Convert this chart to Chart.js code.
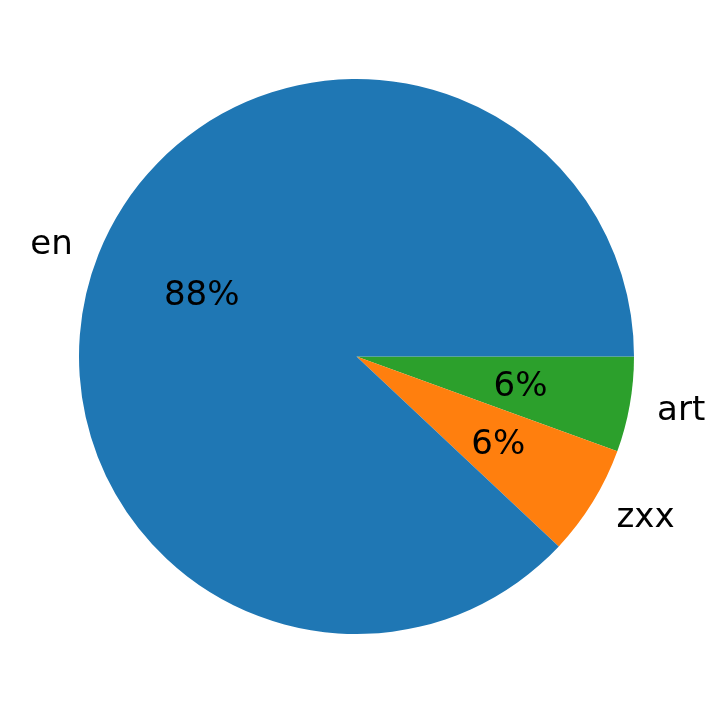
<!DOCTYPE html>
<html>
<head>
<meta charset="utf-8">
<script src="https://cdn.jsdelivr.net/npm/chart.js@4/dist/chart.umd.min.js"></script>
<style>
html,body{margin:0;padding:0;background:#fff;}
#wrap{width:716px;height:713px;}
</style>
</head>
<body>
<div id="wrap"><canvas id="c" width="716" height="713"></canvas></div>
<script>
const categories = ['en', 'zxx', 'art'];
const values = [88.0, 6.45, 5.55];
const colors = ['#1f77b4', '#ff7f0e', '#2ca02c'];

// matplotlib draws counter-clockwise from 3 o'clock; Chart.js goes clockwise,
// so feed the slices in reverse order starting at 3 o'clock.
const ordLabels = categories.slice().reverse();
const ordValues = values.slice().reverse();
const ordColors = colors.slice().reverse();

const FONT_SIZE = 34;
const FONT = FONT_SIZE + 'px "DejaVu Sans"';

const labelPlugin = {
  id: 'mplLabels',
  afterDatasetsDraw(chart) {
    const ctx = chart.ctx;
    const meta = chart.getDatasetMeta(0);
    const total = ordValues.reduce((a, b) => a + b, 0);
    ctx.save();
    ctx.font = FONT;
    ctx.fillStyle = '#000';
    ctx.textBaseline = 'alphabetic';
    meta.data.forEach((arc, i) => {
      const mid = (arc.startAngle + arc.endAngle) / 2;
      const r = arc.outerRadius;
      const cx = arc.x, cy = arc.y;
      const off = 0.3 * FONT_SIZE;
      // percentage label
      const pct = Math.round(ordValues[i] / total * 100) + '%';
      const px = cx + 0.6 * r * Math.cos(mid);
      const py = cy + 0.6 * r * Math.sin(mid);
      ctx.textAlign = 'center';
      ctx.fillText(pct, px, py + off);
      // category label
      const lx = cx + 1.1 * r * Math.cos(mid);
      const ly = cy + 1.1 * r * Math.sin(mid);
      ctx.textAlign = Math.cos(mid) < 0 ? 'right' : 'left';
      ctx.fillText(ordLabels[i], lx, ly + off);
    });
    ctx.restore();
  }
};

new Chart(document.getElementById('c'), {
  type: 'pie',
  data: {
    labels: ordLabels,
    datasets: [{
      data: ordValues,
      backgroundColor: ordColors,
      borderWidth: 0
    }]
  },
  options: {
    responsive: false,
    animation: false,
    rotation: 90,
    layout: { padding: { left: 79, right: 82, top: 79, bottom: 79 } },
    plugins: {
      legend: { display: false },
      tooltip: { enabled: false }
    }
  },
  plugins: [labelPlugin]
});
</script>
</body>
</html>
